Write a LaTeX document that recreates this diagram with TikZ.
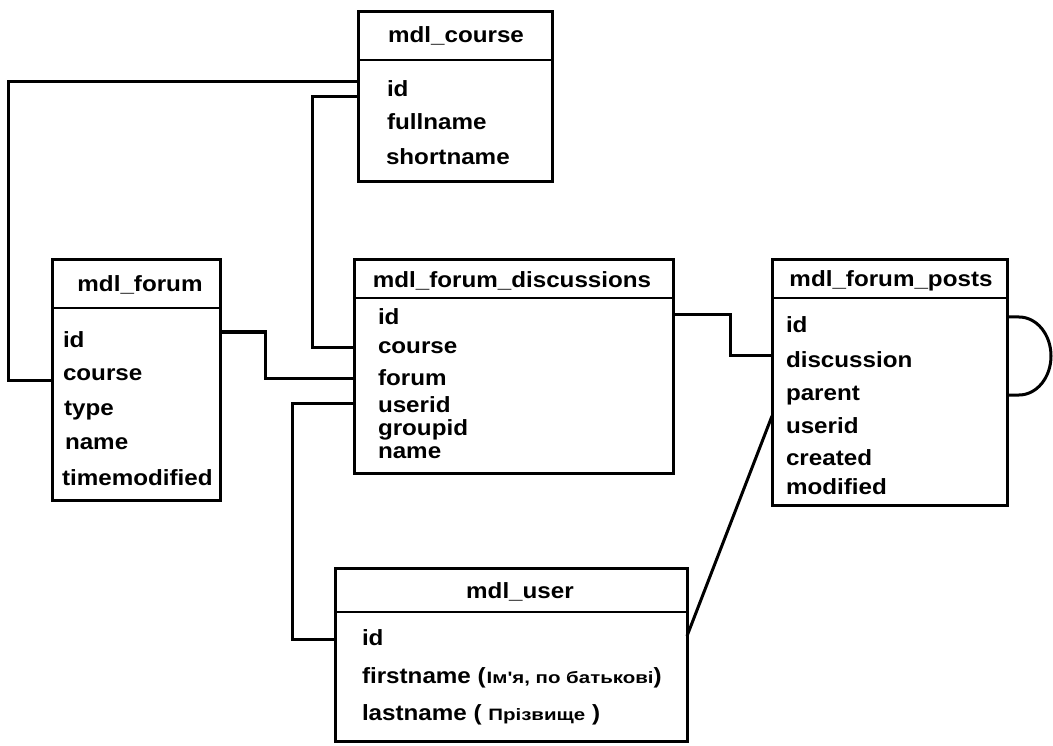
\documentclass[tikz,border=0pt]{standalone}
\usepackage{fontspec}
\setmainfont{Liberation Sans}[FakeStretch=1.10]
\newfontfamily\cyrsmall{Liberation Sans}[FakeStretch=1.24]
\begin{document}
\begin{tikzpicture}[x=1pt,y=-1pt,
  every node/.style={inner sep=0pt, outer sep=0pt},
  tbl/.style={draw, line width=3pt, anchor=north west, fill=white},
  hdr/.style={anchor=base, font=\fontsize{22}{24}\bfseries\selectfont},
  fld/.style={anchor=base west, font=\fontsize{22}{24}\bfseries\selectfont},
  small/.style={},
  link/.style={draw, line width=3pt},
  divider/.style={line width=2.5pt}]
\useasboundingbox (0,0) rectangle (1053,746);

% tables
\node[tbl, minimum width=194pt, minimum height=170pt] (course) at (358,12) {};
\node[tbl, minimum width=168pt, minimum height=240pt] (forum) at (52,260) {};
\node[tbl, minimum width=319pt, minimum height=213pt] (disc) at (354,260) {};
\node[tbl, minimum width=235pt, minimum height=245pt] (posts) at (772,260) {};
\node[tbl, minimum width=352pt, minimum height=173pt] (user) at (335,568) {};

% header dividers
\draw[divider] (course.west |- 0,60) -- (course.east |- 0,60);
\draw[divider] (forum.west |- 0,308) -- (forum.east |- 0,308);
\draw[divider] (disc.west |- 0,298) -- (disc.east |- 0,298);
\draw[divider] (posts.west |- 0,298) -- (posts.east |- 0,298);
\draw[divider] (user.west |- 0,612) -- (user.east |- 0,612);

% mdl_course
\node[hdr] (courseh) at (456,43) {mdl\_course};
\node[fld] (cid) at (387,97) {id};
\node[fld] (cfull) at (387,130) {fullname};
\node[fld] (cshort) at (386,165) {shortname};

% mdl_forum
\node[hdr] (forumh) at (140,292) {mdl\_forum};
\node[fld] (fid) at (63,347) {id};
\node[fld] (fcourse) at (63,380) {course};
\node[fld] (ftype) at (64,415) {type};
\node[fld] (fname) at (65,449) {name};
\node[fld] (ftime) at (62,485) {timemodified};

% mdl_forum_discussions
\node[hdr] (disch) at (512,288) {mdl\_forum\_discussions};
\node[fld] (did) at (378,325) {id};
\node[fld] (dcourse) at (378,353) {course};
\node[fld] (dforum) at (378,385) {forum};
\node[fld] (duser) at (378,412) {userid};
\node[fld] (dgroup) at (378,435) {groupid};
\node[fld] (dname) at (378,458) {name};

% mdl_forum_posts
\node[hdr] (postsh) at (891,287) {mdl\_forum\_posts};
\node[fld] (pid) at (786,332) {id};
\node[fld] (pdisc) at (786,367) {discussion};
\node[fld] (pparent) at (786,400) {parent};
\node[fld] (puser) at (786,433) {userid};
\node[fld] (pcreated) at (786,465) {created};
\node[fld] (pmod) at (786,494) {modified};

% mdl_user
\node[hdr] (userh) at (520,598) {mdl\_user};
\node[fld] (uid) at (362,645) {id};
\node[fld] (ufirst) at (362,683) {firstname (\kern1pt{\cyrsmall\fontsize{16.5}{18}\bfseries\selectfont Ім'я, по батькові})};
\node[fld] (ulast) at (362,720) {lastname ( {\cyrsmall\fontsize{16.5}{18}\bfseries\selectfont Прізвище} )};

% relations
\draw[link] (course.west |- 0,82) -| (8,380) -- (forum.west |- 0,380);
\draw[link] (course.west |- 0,97) -| (312,347) -- (disc.west |- 0,347);
\draw[link] (forum.east |- 0,332) -| (265,378) -- (disc.west |- 0,378);
\draw[link] (disc.west |- 0,403) -| (292,639) -- (user.west |- 0,639);
\draw[link] (disc.east |- 0,315) -| (730,355) -- (posts.west |- 0,355);
\draw[link] (posts.west |- 0,416) -- (user.east |- 0,636);
\draw[link] (posts.east |- 0,317) -- (1019,317)
  arc[start angle=90, end angle=-90, x radius=32pt, y radius=39pt]
  -- (posts.east |- 0,395);
\end{tikzpicture}
\end{document}
